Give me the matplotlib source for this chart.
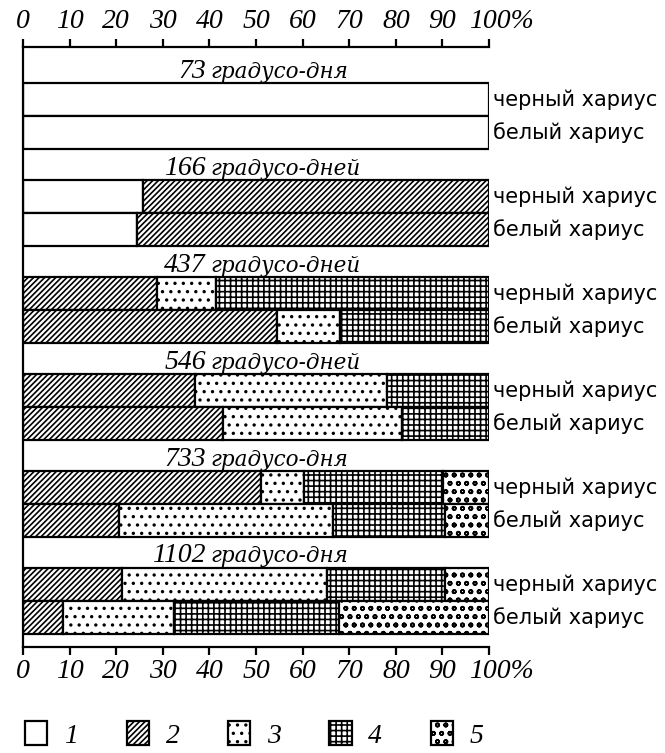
import matplotlib
matplotlib.use('Agg')
import matplotlib.pyplot as plt
import matplotlib.transforms as mtransforms
from matplotlib.patches import Patch

# ---- data -------------------------------------------------------------
group_degree_days = ['73', '166', '437', '546', '733', '1102']
group_words = ['градусо-дня', 'градусо-дней', 'градусо-дней',
               'градусо-дней', 'градусо-дня', 'градусо-дня']
species = ['черный хариус', 'белый хариус']
stage_labels = ['1', '2', '3', '4', '5']
x_ticks = [0, 10, 20, 30, 40, 50, 60, 70, 80, 90, 100]
x_tick_labels = ['0', '10', '20', '30', '40', '50', '60', '70', '80', '90', '100%']

# shares (%) of developmental stages 1..5 per degree-day group
stage1_black = [100, 25.7, 0, 0, 0, 0]
stage1_white = [100, 24.5, 0, 0, 0, 0]
stage2_black = [0, 74.3, 28.7, 36.8, 51.1, 21.2]
stage2_white = [0, 75.5, 54.4, 42.9, 20.5, 8.5]
stage3_black = [0, 0, 12.8, 41.4, 9.2, 44.1]
stage3_white = [0, 0, 13.7, 38.5, 46.0, 23.9]
stage4_black = [0, 0, 58.5, 21.8, 29.8, 25.3]
stage4_white = [0, 0, 31.9, 18.6, 24.1, 35.3]
stage5_black = [0, 0, 0, 0, 9.9, 9.4]
stage5_white = [0, 0, 0, 0, 9.4, 32.3]

black_stages = [stage1_black, stage2_black, stage3_black, stage4_black, stage5_black]
white_stages = [stage1_white, stage2_white, stage3_white, stage4_white, stage5_white]

# ---- style ------------------------------------------------------------
plt.rcParams['hatch.linewidth'] = 1.2
hatches = ['', '//////', '..', '+++', 'oo']
LW = 1.6
num_font = dict(family='Liberation Serif', style='italic')
word_font = dict(family='DejaVu Serif', style='italic')
sp_font = dict(family='DejaVu Sans')

fig = plt.figure(figsize=(6.65, 7.53), dpi=100)
ax = fig.add_axes([0.0346, 0.1408, 0.7008, 0.7968])

bar_h = 0.34
offsets = [0.541, 0.881]

for i in range(len(group_degree_days)):
    for j, stages in enumerate([black_stages, white_stages]):
        y = i + offsets[j]
        left = 0.0
        for k, st in enumerate(stages):
            w = st[i]
            if w > 0:
                ax.barh(y, w, left=left, height=bar_h, facecolor='white',
                        edgecolor='black', linewidth=LW, hatch=hatches[k])
            left += w
        ax.text(100.8, y, species[j], ha='left', va='center', fontsize=15,
                clip_on=False, **sp_font)
    ax.text(39.2, i + 0.315, group_degree_days[i], ha='right', va='baseline',
            fontsize=20, **num_font)
    ax.text(40.3, i + 0.315, group_words[i], ha='left', va='baseline',
            fontsize=15.5, **word_font)

ax.set_xlim(0, 100)
ax.set_ylim(6.186, 0)
ax.set_yticks([])
ax.set_xticks(x_ticks)
ax.set_xticklabels(x_tick_labels, fontsize=20, **num_font)
ax.tick_params(axis='x', which='both', top=True, bottom=True, labeltop=True,
               labelbottom=True, direction='out', length=6, width=LW, pad=3)
for t in ax.xaxis.get_major_ticks():
    t.label2.set_fontsize(20)
    t.label2.set_fontfamily('Liberation Serif')
    t.label2.set_fontstyle('italic')
ax.spines['right'].set_visible(False)
for s in ['top', 'bottom', 'left']:
    ax.spines[s].set_linewidth(LW)

# shift the "100%" labels so the number sits on the tick
last = ax.xaxis.get_major_ticks()[-1]
shift = mtransforms.ScaledTranslation(12 / 100, 0, fig.dpi_scale_trans)
last.label1.set_transform(last.label1.get_transform() + shift)
last.label2.set_transform(last.label2.get_transform() + shift)

handles = [Patch(facecolor='white', edgecolor='black', linewidth=LW, hatch=h)
           for h in hatches]
fig.legend(handles, stage_labels, loc='center left',
           bbox_to_anchor=(0.038, 0.024), ncol=5, frameon=False,
           borderaxespad=0, borderpad=0, handlelength=0.8, handleheight=0.95,
           handletextpad=0.6, columnspacing=1.75,
           prop=dict(family='Liberation Serif', style='italic', size=20))

fig.savefig('out.png', dpi=100)
